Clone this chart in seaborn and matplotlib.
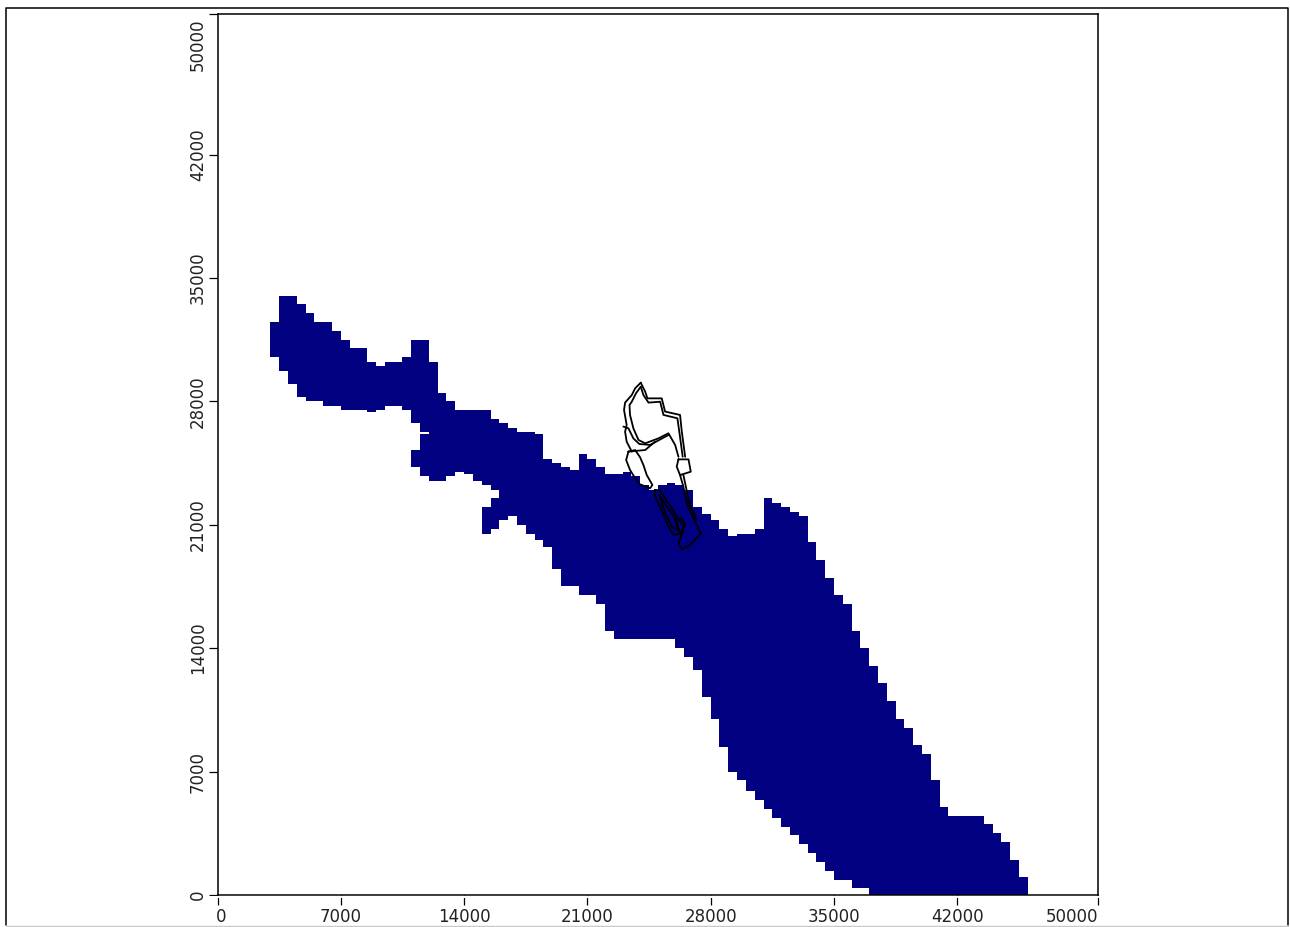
import numpy as np
import pandas as pd
import matplotlib
matplotlib.use('Agg')
import matplotlib.pyplot as plt
import seaborn as sns
from matplotlib.colors import ListedColormap
from matplotlib.lines import Line2D
from matplotlib.transforms import ScaledTranslation

# plume footprint: one low/high pair per 500 m column, starting at x = 3000
col_start = 3000
col_width = 500
row_height = 125
col_low = [30500, 29750, 29000, 28250, 28000, 28000, 27750, 27750, 27500, 27500, 27500,
           27375, 27500, 27750, 27750, 27500, 26750, 26250, 23500, 23500, 23750, 24000,
           23875, 23500, 23250, 23000, 21250, 21500, 21000, 20500, 20125, 19750, 18500,
           17500, 17500, 17000, 17000, 16500, 15000, 14500, 14500, 14500, 14500, 14500,
           14500, 14500, 14000, 13500, 12750, 11250, 10000, 8375, 7000, 6500, 5875, 5375,
           4875, 4375, 3875, 3375, 2875, 2375, 1875, 1375, 875, 875, 375, 375,
           0, 0, 0, 0, 0, 0, 0, 0, 0, 0, 0, 0, 0, 0, 0, 0, 0, 0]
col_high = [32500, 34000, 34000, 33500, 33000, 32500, 32500, 32000, 31500, 31000, 31000,
            30250, 30000, 30250, 30250, 30500, 31500, 31500, 30250, 28500, 28000, 27500,
            27500, 27500, 27500, 27000, 26750, 26500, 26250, 26250, 26125, 24750, 24500,
            24250, 24125, 25000, 24750, 24250, 23875, 23875, 24000, 23750, 23250, 23000,
            23250, 23375, 23250, 23000, 22000, 21625, 21250, 20750, 20375, 20500, 20500,
            20750, 22500, 22250, 22000, 21750, 21500, 20000, 19000, 18000, 17000, 16500,
            15000, 14000, 13000, 12000, 11000, 10000, 9500, 8500, 8000, 6500, 5000, 4500,
            4500, 4500, 4500, 4000, 3500, 3000, 2000, 1000]

# columns where the footprint has a second, separate piece
extra_x = [11000, 11500, 15000, 15500]
extra_low = [24250, 23750, 20500, 20750]
extra_high = [25250, 26125, 22000, 22500]

# site outlines
outer_left_x = [24030, 23710, 23520, 23140, 23080, 23230, 23140, 23230, 23520]
outer_left_y = [29060, 28740, 28360, 27930, 27510, 26660, 26280, 25710, 25150]
outer_right_x = [24030, 24280, 24410, 25220, 25410, 26260, 26360, 26550]
outer_right_y = [29060, 28550, 28170, 28170, 27420, 27230, 26280, 24860]
inner_left_x = [24030, 23760, 23520, 23390, 23420, 23610, 23900, 24280, 25030, 25600, 25980, 26170]
inner_left_y = [28830, 28460, 27980, 27790, 27230, 26470, 25810, 25620, 25900, 26190, 25530, 24860]
inner_right_x = [24030, 24180, 24470, 25130, 25320, 26110, 26230, 26410]
inner_right_y = [28830, 28360, 27930, 27980, 27230, 27040, 26190, 24860]
band_x = [23045, 23330, 23610, 23950, 24560, 25600]
band_y = [26570, 26470, 25900, 25580, 25530, 26090]
cross_x = [23330, 24280, 24840]
cross_y = [25150, 25240, 25710]
pond_x = [23330, 23200, 23420, 23710, 23950, 24560, 24690, 24370, 24180, 23990, 23710, 23330]
pond_y = [25150, 24670, 24110, 23640, 23310, 23070, 23260, 23820, 24390, 24830, 25240, 25150]
box_x = [26170, 26740, 26870, 26260, 26070, 26170]
box_y = [24710, 24710, 24010, 23820, 24300, 24710]
strip_x = [26260, 26450, 26640, 27020, 27440, 26830, 26360, 26170, 26450]
strip_y = [23820, 23160, 22220, 21370, 20510, 19850, 19610, 19950, 20700]
strip2_x = [26450, 26790, 27210]
strip2_y = [23820, 22220, 21270]
cell_x = [24840, 25130, 25410, 25980, 26450, 26360, 25880, 25600, 25220, 24840, 24840]
cell_y = [22970, 22970, 22500, 21650, 20890, 20510, 20420, 20890, 21840, 22590, 22970]
cell2_x = [25090, 25510, 26070, 26110, 25790, 25320, 25090]
cell2_y = [22690, 22030, 21270, 20700, 20890, 21930, 22690]
ring_x = [25980, 26360, 26550, 26260, 25980]
ring_y = [21270, 21370, 20990, 20510, 21270]

x_ticks = [0, 7000, 14000, 21000, 28000, 35000, 42000, 50000]
y_ticks = [0, 7000, 14000, 21000, 28000, 35000, 42000, 50000]

outlines = [
    (outer_left_x, outer_left_y), (outer_right_x, outer_right_y),
    (inner_left_x, inner_left_y), (inner_right_x, inner_right_y),
    (band_x, band_y), (cross_x, cross_y), (pond_x, pond_y), (box_x, box_y),
    (strip_x, strip_y), (strip2_x, strip2_y), (cell_x, cell_y),
    (cell2_x, cell2_y), (ring_x, ring_y),
]

sns.set_theme(style='white')
plt.rcParams['font.family'] = 'DejaVu Sans'

# rasterise the footprint onto the model grid
n_cols = 50000 // col_width
n_rows = 50000 // row_height
grid = np.zeros((n_rows, n_cols))
for i, (low, high) in enumerate(zip(col_low, col_high)):
    grid[low // row_height:high // row_height, col_start // col_width + i] = 1
for x, low, high in zip(extra_x, extra_low, extra_high):
    grid[low // row_height:high // row_height, x // col_width] = 1

fig = plt.figure(figsize=(12.9, 9.27), dpi=100)
ax = fig.add_axes([217.5 / 1290, (927 - 895) / 927, 880.7 / 1290, 881.5 / 927])

# edgecolor='face' stops hairlines showing between the cells
sns.heatmap(pd.DataFrame(grid), ax=ax, cmap=ListedColormap(['white', '#000080']),
            vmin=0, vmax=1, cbar=False, xticklabels=False, yticklabels=False,
            edgecolor='face', antialiased=False)
ax.set_xlim(0, n_cols)
ax.set_ylim(0, n_rows)

for xs, ys in outlines:
    sns.lineplot(x=np.array(xs) / col_width, y=np.array(ys) / row_height, ax=ax,
                 sort=False, estimator=None, color='black', linewidth=1.3, legend=False)
ax.set_xlabel('')
ax.set_ylabel('')

for spine in ax.spines.values():
    spine.set_visible(True)
    spine.set_color('black')
    spine.set_linewidth(1.1)

ax.set_xticks([v / col_width for v in x_ticks])
ax.set_xticklabels([str(v) for v in x_ticks], fontsize=12, color='#222222')
ax.set_yticks([v / row_height for v in y_ticks])
ax.set_yticklabels([str(v) for v in y_ticks], fontsize=12, color='#222222',
                   rotation=90, va='center')
ax.tick_params(axis='x', bottom=True, length=7.2, width=0.9, color='black', pad=2)
ax.tick_params(axis='y', left=True, length=6.5, width=0.9, color='black', pad=1)

# end labels sit inside the axis range instead of centred on the tick
px = fig.dpi_scale_trans
last_x = ax.get_xticklabels()[-1]
last_x.set_ha('right')
first_x = ax.get_xticklabels()[0]
first_x.set_transform(first_x.get_transform() + ScaledTranslation(4 / 100, 0, px))
last_y = ax.get_yticklabels()[-1]
last_y.set_va('top')
last_y.set_transform(last_y.get_transform() + ScaledTranslation(0, -5 / 100, px))

# small white gap between the x axis and its ticks
to_fig_x = lambda p: p / 1290
to_fig_y = lambda p: 1 - p / 927
fig.add_artist(Line2D([to_fig_x(205), to_fig_x(1105)], [to_fig_y(897.3), to_fig_y(897.3)],
                      color='white', linewidth=1.5, zorder=5))

# window frame around the picture
fig.add_artist(Line2D([to_fig_x(6), to_fig_x(6), to_fig_x(1288), to_fig_x(1288)],
                      [to_fig_y(925), to_fig_y(8), to_fig_y(8), to_fig_y(925)],
                      color='black', linewidth=1.1, zorder=6))
fig.add_artist(Line2D([to_fig_x(6), to_fig_x(1288)], [to_fig_y(925.5), to_fig_y(925.5)],
                      color='#c8c8c8', linewidth=1.0, zorder=6))

fig.savefig('out.png', dpi=100, facecolor='white')
